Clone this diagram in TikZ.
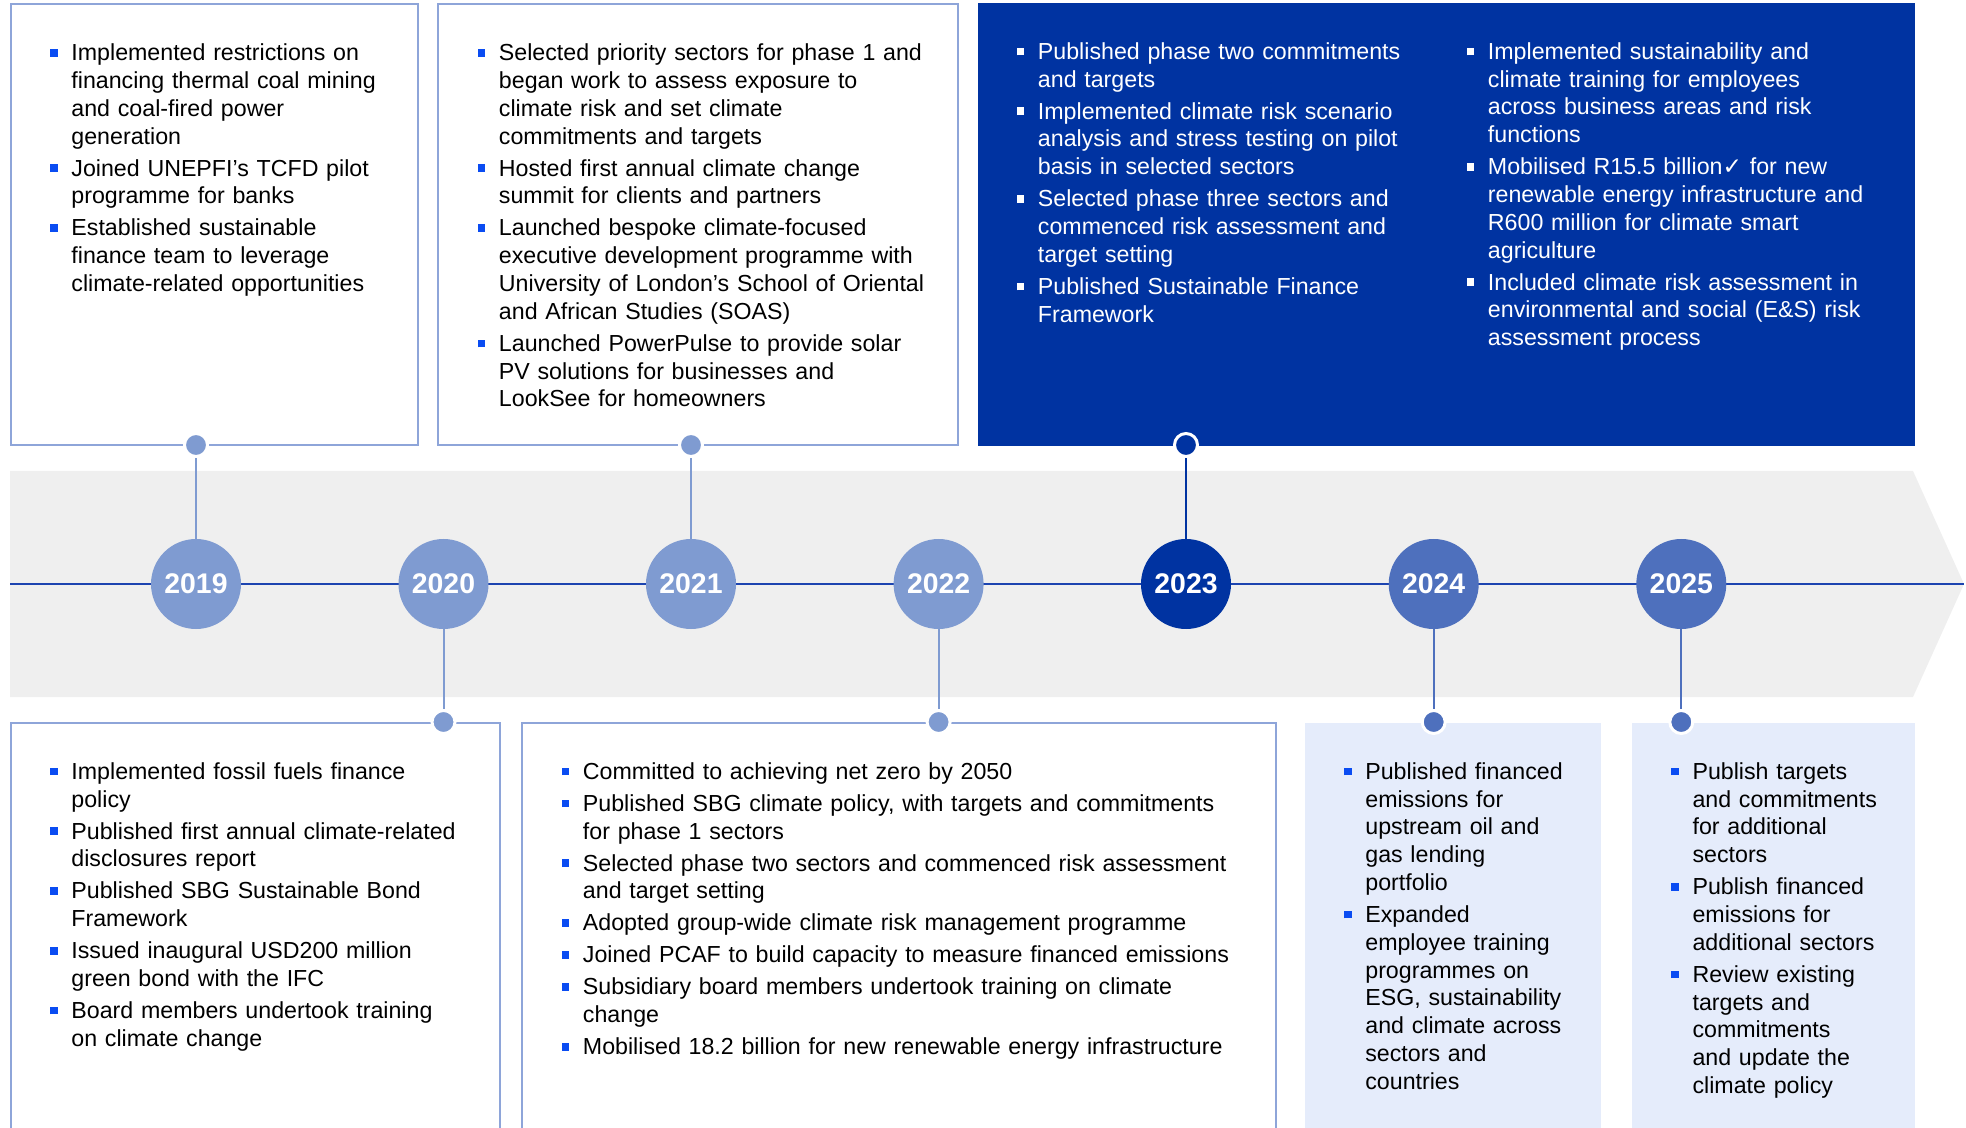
\documentclass[tikz,border=0pt]{standalone}
\usepackage{fontspec}
\setmainfont{Liberation Sans}
\newfontfamily\symfont{DejaVu Sans}
\usepackage{tikz}

\definecolor{bandgray}{HTML}{EFEFEF}
\definecolor{navy}{HTML}{0033A1}
\definecolor{midblue}{HTML}{4E70BD}
\definecolor{paleblue}{HTML}{7F9BD1}
\definecolor{edgeblue}{HTML}{8EA5D9}
\definecolor{iceblue}{HTML}{E5ECFB}
\definecolor{bulblue}{HTML}{0A4CF2}
\definecolor{lineblue}{HTML}{1C44B0}

\newcommand\txtfont{\fontsize{11.6}{13.9}\selectfont}
\newcommand\yrfont{\fontsize{14.2}{16}\selectfont\bfseries}
\newcommand\itm[1][bulblue]{\setlength{\parskip}{2.1pt}\par\noindent\hangindent=10.6pt\hangafter=1\makebox[10.6pt][l]{\textcolor{#1}{\rule[2pt]{3.8pt}{3.8pt}}}\strut\ignorespaces}

\tikzset{
  yr/.style={shape=circle,fill=#1,text=white,minimum size=45pt,inner sep=0pt,font=\yrfont},
  yeardot/.style={shape=circle,fill=#1,draw=white,line width=1.5pt,minimum size=11.5pt,inner sep=0pt},
  txt/.style={anchor=base west,inner sep=0pt,outer sep=0pt,text width=400pt,align=left,font=\txtfont},
  stemline/.style={draw=#1,line width=1pt},
}

\begin{document}
\begin{tikzpicture}[x=0.5pt,y=-0.5pt]
\useasboundingbox (0,0) rectangle (1966,1128);

% band and line
\fill[bandgray] (10,471) -- (1913,471) -- (1964,584) -- (1913,697) -- (10,697) -- cycle;
\coordinate (start) at (10,584);
\coordinate (tip) at (1964,584);
\draw[lineblue,line width=0.8pt] (start) -- (tip);

% boxes
\draw[edgeblue,line width=1pt] (10.5,4.5) rectangle (418,445.5);
\draw[edgeblue,line width=1pt] (438,4.5) rectangle (958,445.5);
\fill[navy] (978,3) rectangle (1915,446);
\draw[edgeblue,line width=1pt] (10.5,1132) -- (10.5,722.5) -- (500,722.5) -- (500,1132);
\draw[edgeblue,line width=1pt] (522,1132) -- (522,722.5) -- (1276,722.5) -- (1276,1132);
\fill[iceblue] (1305,723) rectangle (1601,1132);
\fill[iceblue] (1632,723) rectangle (1915,1132);

\node[txt] (t2019) at (50.25,28.7) {\itm Implemented restrictions on\newline financing thermal coal mining\newline and coal-fired power\newline generation
\itm Joined UNEPFI’s TCFD pilot\newline programme for banks
\itm Established sustainable\newline finance team to leverage\newline climate-related opportunities\par};

\node[txt] (t2021) at (477.75,28.7) {\itm Selected priority sectors for phase 1 and\newline began work to assess exposure to\newline climate risk and set climate\newline commitments and targets
\itm Hosted first annual climate change\newline summit for clients and partners
\itm Launched bespoke climate-focused\newline executive development programme with\newline University of London’s School of Oriental\newline and African Studies (SOAS)
\itm Launched PowerPulse to provide solar\newline PV solutions for businesses and\newline LookSee for homeowners\par};

\node[txt,text=white] (t2023a) at (1016.75,27.3) {\itm[white] Published phase two commitments\newline and targets
\itm[white] Implemented climate risk scenario\newline analysis and stress testing on pilot\newline basis in selected sectors
\itm[white] Selected phase three sectors and\newline commenced risk assessment and\newline target setting
\itm[white] Published Sustainable Finance\newline Framework\par};

\node[txt,text=white] (t2023b) at (1466.75,27.3) {\itm[white] Implemented sustainability and\newline climate training for employees\newline across business areas and risk\newline functions
\itm[white] Mobilised R15.5 billion{\symfont ✓} for new\newline renewable energy infrastructure and\newline R600 million for climate smart\newline agriculture
\itm[white] Included climate risk assessment in\newline environmental and social (E\&S) risk\newline assessment process\par};

\node[txt] (t2020) at (50.25,747.2) {\itm Implemented fossil fuels finance\newline policy
\itm Published first annual climate-related\newline disclosures report
\itm Published SBG Sustainable Bond\newline Framework
\itm Issued inaugural USD200 million\newline green bond with the IFC
\itm Board members undertook training\newline on climate change\par};

\node[txt] (t2022) at (561.75,747.2) {\itm Committed to achieving net zero by 2050
\itm Published SBG climate policy, with targets and commitments\newline for phase 1 sectors
\itm Selected phase two sectors and commenced risk assessment\newline and target setting
\itm Adopted group-wide climate risk management programme
\itm Joined PCAF to build capacity to measure financed emissions
\itm Subsidiary board members undertook training on climate\newline change
\itm Mobilised 18.2 billion for new renewable energy infrastructure\par};

\node[txt] (t2024) at (1344.15,747.2) {\itm Published financed\newline emissions for\newline upstream oil and\newline gas lending\newline portfolio
\itm Expanded\newline employee training\newline programmes on\newline ESG, sustainability\newline and climate across\newline sectors and\newline countries\par};

\node[txt] (t2025) at (1671.35,747.2) {\itm Publish targets\newline and commitments\newline for additional\newline sectors
\itm Publish financed\newline emissions for\newline additional sectors
\itm Review existing\newline targets and\newline commitments\newline and update the\newline climate policy\par};

% years
\node[yr=paleblue] (y2019) at (196,584) {2019};
\node[yr=paleblue] (y2020) at (443.5,584) {2020};
\node[yr=paleblue] (y2021) at (691,584) {2021};
\node[yr=paleblue] (y2022) at (938.6,584) {2022};
\node[yr=navy] (y2023) at (1186,584) {2023};
\node[yr=midblue] (y2024) at (1433.7,584) {2024};
\node[yr=midblue] (y2025) at (1681.3,584) {2025};

\node[yeardot=paleblue] (d2019) at (196,445) {};
\node[yeardot=paleblue] (d2020) at (443.5,722) {};
\node[yeardot=paleblue] (d2021) at (691,445) {};
\node[yeardot=paleblue] (d2022) at (938.6,722) {};
\node[yeardot=navy] (d2023) at (1186,445) {};
\node[yeardot=midblue] (d2024) at (1433.7,722) {};
\node[yeardot=midblue] (d2025) at (1681.3,722) {};

\path (y2019) edge[stemline=paleblue] (d2019);
\path (y2020) edge[stemline=paleblue] (d2020);
\path (y2021) edge[stemline=paleblue] (d2021);
\path (y2022) edge[stemline=paleblue] (d2022);
\path (y2023) edge[stemline=navy] (d2023);
\path (y2024) edge[stemline=midblue] (d2024);
\path (y2025) edge[stemline=midblue] (d2025);
\end{tikzpicture}
\end{document}
